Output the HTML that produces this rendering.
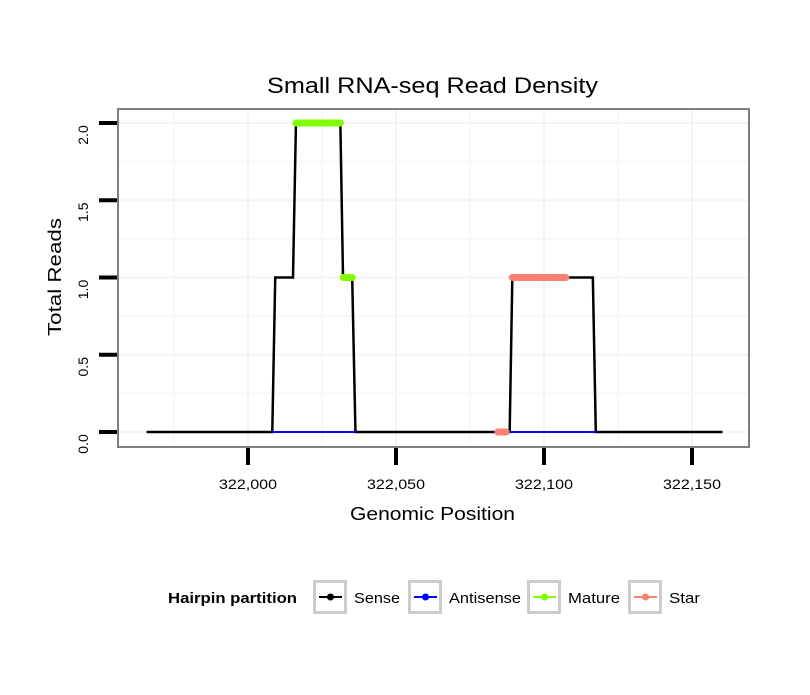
<!DOCTYPE html>
<html><head><meta charset="utf-8"><style>
body{margin:0;background:#fff}
text{font-family:"Liberation Sans",sans-serif}
</style></head><body>
<svg id="c" width="810" height="690" xmlns="http://www.w3.org/2000/svg">
<rect width="810" height="690" fill="#fff"/>
<text x="267" y="93" font-size="22" textLength="331" lengthAdjust="spacingAndGlyphs">Small RNA-seq Read Density</text>
<g id="grid"></g>
<g id="series"></g>
<rect x="118" y="109" width="631" height="338" fill="none" stroke="#7f7f7f" stroke-width="2"/>
<g id="axes"></g>
<text x="350" y="520" font-size="18" textLength="165" lengthAdjust="spacingAndGlyphs">Genomic Position</text>
<text transform="translate(61,336) rotate(-90)" font-size="18" textLength="118" lengthAdjust="spacingAndGlyphs">Total Reads</text>
<g id="legend"></g>
</svg>
<script>
const xTicks=[322000,322050,322100,322150];
const xTickLabels=["322,000","322,050","322,100","322,150"];
const yTicks=[0,0.5,1,1.5,2];
const yTickLabels=["0.0","0.5","1.0","1.5","2.0"];
const senseX=[321965.7,322008.2,322009.2,322015.2,322016.2,322031.2,322032.1,322035.2,322036.3,322088.4,322089.3,322116.5,322117.5,322160.3];
const senseY=[0,0,1,1,2,2,1,1,0,0,1,1,0,0];
const antisenseSegs=[[322008.2,322036.3,0],[322088.4,322117.5,0]];
const matureSegs=[[322016.2,322031.2,2],[322032.2,322035.2,1]];
const starSegs=[[322089.3,322107.4,1],[322084.4,322087.2,0]];
const legendLabels=["Sense","Antisense","Mature","Star"];
const legendColors=["#000","#0000ff","#7fff00","#fa8072"];

const X=v=>248+(v-322000)*(692-248)/150;
const Y=v=>432-v*(432-123)/2;
const NS="http://www.w3.org/2000/svg";
function mk(t,a,p){const e=document.createElementNS(NS,t);for(const k in a)e.setAttribute(k,a[k]);p.appendChild(e);return e;}
const grid=document.getElementById('grid'),ser=document.getElementById('series'),ax=document.getElementById('axes'),lg=document.getElementById('legend');
for(let i=0;i<xTicks.length;i++){
  const x=X(xTicks[i]);
  const g=mk('line',{x1:x,x2:x,y1:110,y2:446,stroke:'#f4f4f4','stroke-width':2},grid);
  
  
}
for(let i=-1;i<xTicks.length;i++){
  const x=X(xTicks[0]+(i+0.5)*50);
  if(x<119||x>748)continue;
  const g=mk('line',{x1:x,x2:x,y1:110,y2:446,stroke:'#f8f8f8','stroke-width':2},grid);
  
  
}
for(let i=0;i<yTicks.length;i++){
  const y=Y(yTicks[i]);
  const g=mk('line',{x1:119,x2:748,y1:y,y2:y,stroke:'#f4f4f4','stroke-width':2},grid);
  
  
  if(i<yTicks.length-1){const ym=Y((yTicks[i]+yTicks[i+1])/2);
  const m=mk('line',{x1:119,x2:748,y1:ym,y2:ym,stroke:'#f8f8f8','stroke-width':2},grid);
  
  }
}
const segLine=(s,c,w,cap,name)=>{for(const d of s){const l=mk('line',{x1:X(d[0]),x2:X(d[1]),y1:Y(d[2]),y2:Y(d[2]),stroke:c,'stroke-width':w,'stroke-linecap':cap},ser);
  
  }};
let pts=senseX.map((v,i)=>X(v)+','+Y(senseY[i])).join(' ');
const sl=mk('polyline',{points:pts,fill:'none',stroke:'#000','stroke-width':2.5},ser);


segLine(antisenseSegs,'#0000ff',2,'butt','antisense-line');
segLine(matureSegs,'#7fff00',7,'round','mature-segment');
segLine(starSegs,'#fa8072',7,'round','star-segment');
for(let i=0;i<xTicks.length;i++){const x=X(xTicks[i]);
  const t=mk('line',{x1:x,x2:x,y1:448,y2:465,stroke:'#000','stroke-width':4},ax);
  
  
  const l=mk('text',{x:x-29,y:489,'font-size':14,textLength:58,lengthAdjust:'spacingAndGlyphs'},ax);l.textContent=xTickLabels[i];
  
  }
for(let i=0;i<yTicks.length;i++){const y=Y(yTicks[i]);
  const t=mk('line',{x1:99,x2:117,y1:y,y2:y,stroke:'#000','stroke-width':4},ax);
  
  
  const l=mk('text',{transform:`translate(88,${y+12}) rotate(-90)`,'font-size':14,'text-anchor':'middle'},ax);l.textContent=yTickLabels[i];
  
  }
const lt=mk('text',{x:168,y:603,'font-size':15,'font-weight':'bold',textLength:129,lengthAdjust:'spacingAndGlyphs'},lg);lt.textContent='Hairpin partition';


const bx=[313,408,527,628];
const tw=[46,72,52,31];
for(let i=0;i<4;i++){
  const g=mk('g',{},lg);
  
  
  mk('rect',{x:bx[i]+1.5,y:581.5,width:31,height:31,fill:'#fff',stroke:'#cccccc','stroke-width':3},g);
  mk('line',{x1:bx[i]+6,x2:bx[i]+29,y1:597,y2:597,stroke:legendColors[i],'stroke-width':2},g);
  mk('circle',{cx:bx[i]+17.5,cy:597,r:3.5,fill:legendColors[i]},g);
  const t=mk('text',{x:bx[i]+41,y:603,'font-size':15,textLength:tw[i],lengthAdjust:'spacingAndGlyphs'},g);t.textContent=legendLabels[i];
}
</script>
</body></html>
